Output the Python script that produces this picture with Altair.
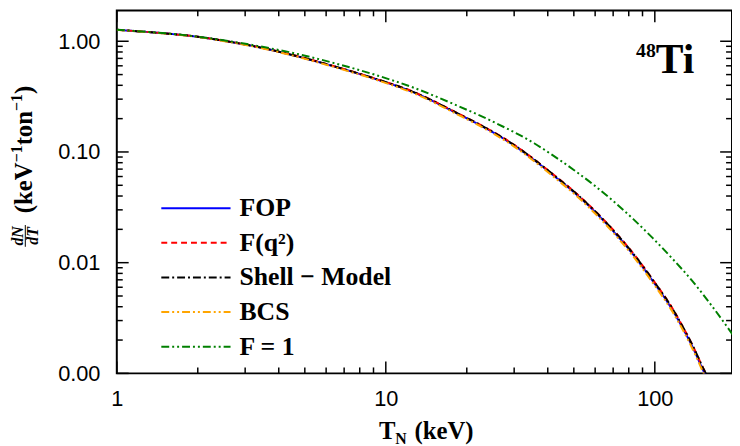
import altair as alt
import pandas as pd

# ---------------- data ----------------
series_names = ["FOP", "F(q²)", "Shell − Model", "BCS", "F = 1"]
series_colors = ["#0000ff", "#ff0000", "#000000", "#ffa500", "#008000"]
series_dash = [[1, 0], [6, 4], [8, 3, 2, 3], [8, 3, 2, 3, 2, 3], [8, 3, 2, 3, 2, 3]]

T_main = [1, 1.427, 2.0, 2.58, 3.33, 4.67, 6.55, 9.03, 12.9, 18.1, 25.4, 30.1, 35.6,
          42.2, 50.0, 59.2, 70.1, 83.0, 98.3, 116.5, 126.7, 138.0, 152.3, 163.4]
fop = [1.269, 1.191, 1.097, 0.996, 0.889, 0.732, 0.584, 0.461, 0.340, 0.2276, 0.1472,
       0.1138, 0.0845, 0.0608, 0.0433, 0.0296, 0.01923, 0.01186, 0.00681, 0.00371,
       0.00259, 0.00174, 0.00103, 0.00074]
fq2 = [1.269, 1.191, 1.098, 0.998, 0.891, 0.735, 0.587, 0.464, 0.343, 0.230, 0.1490,
       0.1154, 0.0858, 0.0619, 0.0442, 0.0303, 0.01972, 0.01220, 0.00703, 0.00384,
       0.00268, 0.00180, 0.00108, 0.00078]
shell = [1.268, 1.190, 1.098, 0.997, 0.890, 0.734, 0.586, 0.463, 0.342, 0.229, 0.1484,
         0.1149, 0.0854, 0.0616, 0.0440, 0.0301, 0.01960, 0.01212, 0.00699, 0.00382,
         0.00267, 0.00180, 0.00108, 0.00078]
bcs = [1.267, 1.188, 1.093, 0.991, 0.883, 0.725, 0.577, 0.455, 0.334, 0.2235, 0.1443,
       0.1113, 0.0825, 0.0592, 0.0421, 0.0287, 0.01862, 0.01146, 0.00657, 0.00358,
       0.00250, 0.00167, 0.00099, 0.00071]

T_f1 = [1, 2.0, 3.33, 4.67, 6.55, 9.19, 12.9, 18.1, 25.4, 35.6, 42.2, 50.0, 59.2,
        70.1, 83.0, 98.3, 116.5, 138.0, 163.4, 200.8]
f_one = [1.269, 1.100, 0.908, 0.770, 0.627, 0.495, 0.375, 0.2672, 0.1845, 0.1198,
         0.0917, 0.0688, 0.0505, 0.0360, 0.02486, 0.01665, 0.01081, 0.00681,
         0.00403, 0.00202]

x_label_ticks = [1, 10, 100]
x_minor_ticks = [2, 3, 4, 5, 6, 7, 8, 9, 20, 30, 40, 50, 60, 70, 80, 90]
y_label_ticks = [0.001, 0.01, 0.1, 1]
y_minor_ticks = [0.002, 0.003, 0.004, 0.005, 0.006, 0.007, 0.008, 0.009,
                 0.02, 0.03, 0.04, 0.05, 0.06, 0.07, 0.08, 0.09,
                 0.2, 0.3, 0.4, 0.5, 0.6, 0.7, 0.8, 0.9]

# ---------------- build table ----------------
rows = []
for name, vals in zip(series_names[:4], [fop, fq2, shell, bcs]):
    for t, v in zip(T_main, vals):
        rows.append({"T": t, "v": v, "series": name})
for t, v in zip(T_f1, f_one):
    rows.append({"T": t, "v": v, "series": series_names[4]})
df = pd.DataFrame(rows)

W, H = 622, 367
xscale = alt.Scale(type="log", domain=[1, 193.6], nice=False, zero=False)
yscale = alt.Scale(type="log", domain=[0.001, 1.9], nice=False, zero=False)

legend = alt.Legend(
    orient="none", legendX=44, legendY=187, title=None,
    symbolType="stroke", symbolSize=4900, symbolStrokeWidth=2,
    labelFont="Liberation Serif", labelFontWeight="bold", labelFontSize=26,
    labelColor="black", labelOffset=8, clipHeight=26, rowPadding=9, padding=0,
    labelLimit=300,
)

lines = alt.Chart(df).mark_line(clip=True, strokeWidth=2, interpolate="monotone").encode(
    x=alt.X("T:Q", scale=xscale,
            axis=alt.Axis(values=x_label_ticks, format="d", title=None, grid=False,
                          ticks=False, tickSize=0, domain=False, labelFont="Liberation Sans",
                          labelFontSize=22, labelColor="black", labelPadding=15,
                          labelFlush=False, labelOverlap=False)),
    y=alt.Y("v:Q", scale=yscale,
            axis=alt.Axis(values=y_label_ticks, format=".2f", title=None, grid=False,
                          ticks=False, tickSize=0, domain=False, labelFont="Liberation Sans",
                          labelFontSize=22, labelColor="black", labelPadding=17,
                          labelFlush=False, labelOverlap=False)),
    color=alt.Color("series:N", scale=alt.Scale(domain=series_names, range=series_colors),
                    legend=legend),
    strokeDash=alt.StrokeDash("series:N", scale=alt.Scale(domain=series_names, range=series_dash),
                              legend=legend),
)


def xticks(vals, length, top):
    d = pd.DataFrame({"t": vals})
    if top:
        yy, yy2 = 0, length
    else:
        yy, yy2 = H, H - length
    return alt.Chart(d).mark_rule(color="black", strokeWidth=1.5).encode(
        x=alt.X("t:Q", scale=xscale),
        y=alt.value(yy), y2=alt.value(yy2))


def yticks(vals, length, right):
    d = pd.DataFrame({"t": vals})
    if right:
        xx, xx2 = W, W - length
    else:
        xx, xx2 = 0, length
    return alt.Chart(d).mark_rule(color="black", strokeWidth=1.5).encode(
        y=alt.Y("t:Q", scale=yscale),
        x=alt.value(xx), x2=alt.value(xx2))


tick_layers = [
    xticks(x_label_ticks, 12, False), xticks(x_minor_ticks, 6, False),
    xticks(x_label_ticks, 12, True), xticks(x_minor_ticks, 6, True),
    yticks(y_label_ticks, 12, False), yticks(y_minor_ticks, 6, False),
    yticks(y_label_ticks, 12, True), yticks(y_minor_ticks, 6, True),
]


def txt(s, x, y, size, align="left", baseline="alphabetic", angle=0, style="normal",
        weight="bold"):
    kw = dict(font="Liberation Serif", fontSize=size, fontWeight=weight, fontStyle=style,
              color="black", align=align, baseline=baseline)
    if angle:
        kw["angle"] = angle
    return alt.Chart(pd.DataFrame({"s": [s]})).mark_text(**kw).encode(
        text="s:N", x=alt.value(x), y=alt.value(y))


# axis titles and annotation (plot coords: origin at plot top-left)
texts = [
    # x title
    txt("T", 265, 433, 25),
    txt("N", 281.5, 438, 16),
    txt("(keV)", 301, 433, 25),
    # y title, rotated pieces with raised superscripts
    txt("(keV", -86, 179.3, 25, align="center", angle=270),
    txt("−1", -96, 145.0, 16, align="center", angle=270),
    txt("ton", -86, 119.1, 25, align="center", angle=270),
    txt("−1", -96, 93.2, 16, align="center", angle=270),
    txt(")", -86, 80.5, 25, align="center", angle=270),
    txt("dN", -100, 228, 16, align="center", baseline="middle", angle=270, style="italic"),
    txt("dT", -85, 228, 16, align="center", baseline="middle", angle=270, style="italic"),
    # nucleus label
    txt("48", 525, 47, 20),
    txt("Ti", 545, 63, 42),
]
frac_bar = alt.Chart(pd.DataFrame({"s": ["bar"]})).mark_rule(color="black", strokeWidth=1).encode(
    x=alt.value(-92.5), y=alt.value(217), y2=alt.value(239))

chart = alt.layer(lines, *tick_layers, *texts, frac_bar).properties(
    width=W, height=H,
    autosize=alt.AutoSizeParams(type="none"),
    padding={"left": 110, "top": 0, "right": 0, "bottom": 71},
    background="white",
).configure_view(stroke="black", strokeWidth=2)

chart.save("out.html", embed_options={"renderer": "svg", "actions": False})
